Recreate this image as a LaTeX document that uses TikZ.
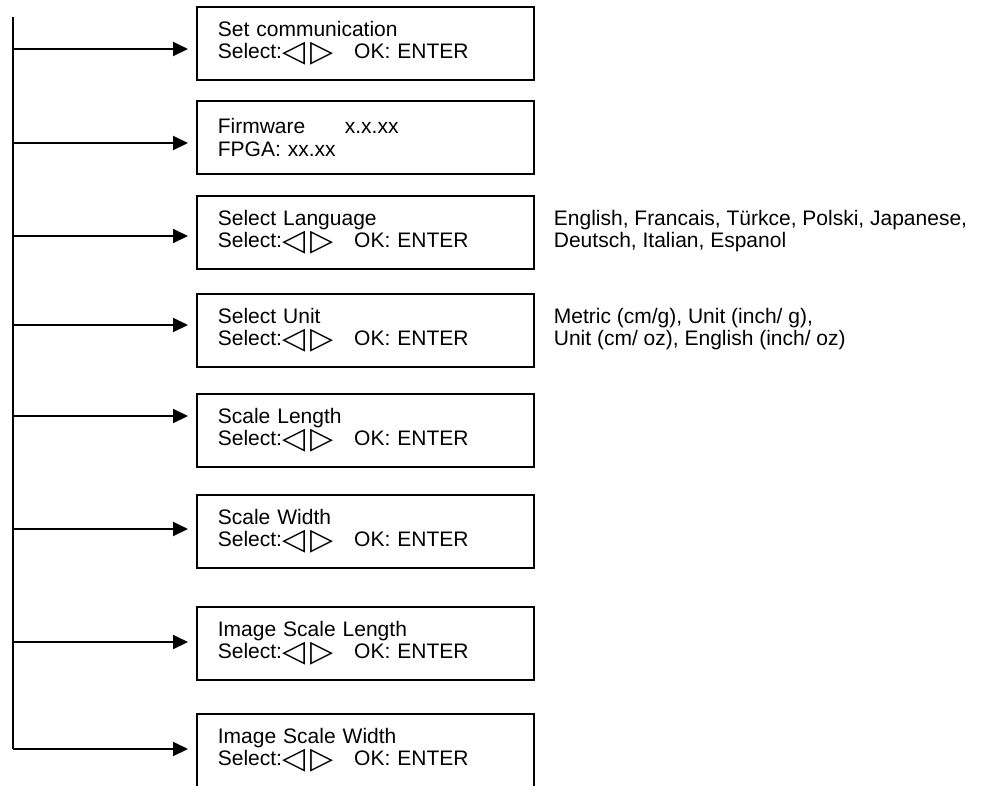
\documentclass[tikz,border=0pt]{standalone}
\usepackage{fontspec}
\setmainfont{Liberation Sans}
\newfontfamily\symfont{DejaVu Sans}
\usetikzlibrary{arrows.meta,positioning}

% extra depth below the last line
\newcommand{\lowpad}{\rule[-7pt]{0pt}{0pt}}
% select line with the two arrow keys
\newcommand{\selline}{Select:{\symfont\fontsize{30}{30}\selectfont\smash{\raisebox{-3pt}{◁}}\hspace{5pt}\smash{\raisebox{-3pt}{▷}}}\hspace{21pt}OK: ENTER\lowpad}

\tikzset{
  menubox/.style={draw,line width=1.7pt,rectangle,anchor=north west,
    minimum width=337pt,minimum height=73pt,text width=295pt,
    inner xsep=21pt,inner ysep=0pt,align=left,
    font=\fontsize{21}{22.5}\selectfont},
  optext/.style={anchor=west,align=left,inner sep=0pt,
    font=\fontsize{21}{22.5}\selectfont},
  feed/.style={line width=2pt,-{Triangle[length=15pt,width=14pt]},shorten >=8pt}
}

\begin{document}
\begin{tikzpicture}[x=1pt,y=-1pt]
  \useasboundingbox (0,0) rectangle (983,785);
  % menu entries
  \foreach \nm/\tp/\ay/\ttl in {comm/6/49/Set communication,
                                lang/195/236/Select Language,
                                unit/293/325/Select Unit,
                                slen/393/416/Scale Length,
                                swid/494/529/Scale Width,
                                islen/606/642/Image Scale Length,
                                iswid/713/749/Image Scale Width}{
    \node[menubox] (\nm) at (196,\tp) {\ttl\\\selline};
    \coordinate (s-\nm) at (13,\ay);
    \draw[feed] (s-\nm) -- (s-\nm -| \nm.west);}
  \node[menubox] (firm) at (196,100)
    {\makebox[127pt][l]{Firmware}x.x.xx\\FPGA: xx.xx};
  \coordinate (s-firm) at (13,143);
  \draw[feed] (s-firm) -- (s-firm -| firm.west);
  % spine
  \coordinate (spinetop) at (13,17);
  \draw[line width=2pt] (spinetop) -- (s-iswid);
  % option lists
  \node[optext,right=19pt of lang] (langopts)
    {English, Francais, Türkce, Polski, Japanese,\\Deutsch, Italian, Espanol\lowpad};
  \node[optext,right=19pt of unit] (unitopts)
    {Metric (cm/g), Unit (inch/ g),\\Unit (cm/ oz), English (inch/ oz)\lowpad};
\end{tikzpicture}
\end{document}
